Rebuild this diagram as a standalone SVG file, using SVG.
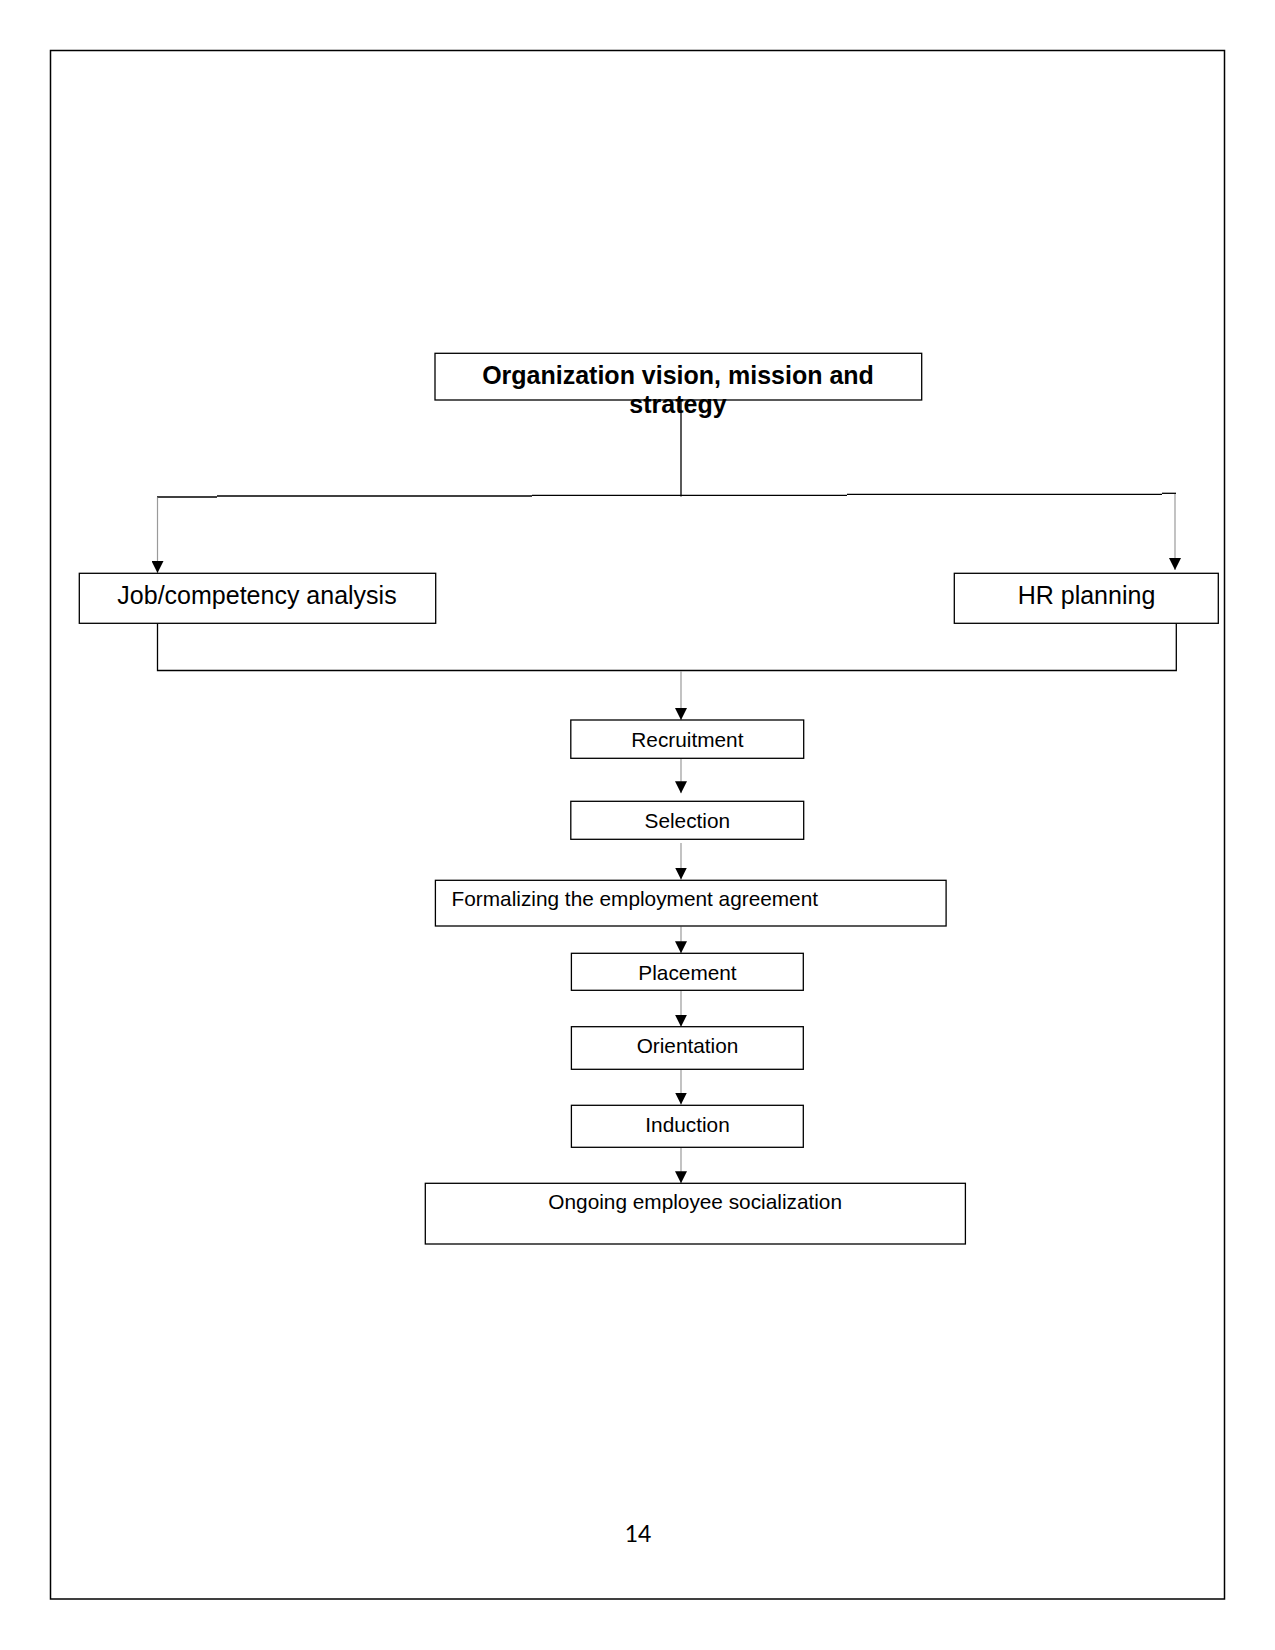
<svg xmlns="http://www.w3.org/2000/svg" width="1275" height="1650" viewBox="0 0 1275 1650">
<style>
.box{fill:#fff;stroke:#000;stroke-width:1.3}
.t{font-family:"Liberation Sans",Arial,sans-serif;fill:#000}
.big{font-size:25px}
.sm{font-size:20.8px}
.k{stroke:#000;stroke-width:1.3;fill:none}
.g{stroke:#9a9a9a;stroke-width:1.2;fill:none;marker-end:url(#ah)}
</style>
<defs>
<marker id="ah" viewBox="0 0 12 12" refX="12" refY="6" markerWidth="12" markerHeight="12" markerUnits="userSpaceOnUse" orient="auto">
<path d="M0,0 L12,6 L0,12 z" fill="#000"/>
</marker>
</defs>
<rect x="50.5" y="50.5" width="1174" height="1548.5" fill="none" stroke="#000" stroke-width="1.5"/>
<g id="connectors">
<line class="k" x1="681" y1="400" x2="681" y2="496.5"/>
<line class="k" x1="157" y1="497" x2="217" y2="497"/>
<line class="k" x1="217" y1="496" x2="532" y2="496"/>
<line class="k" x1="532" y1="495.3" x2="847" y2="495.3"/>
<line class="k" x1="847" y1="494.3" x2="1162" y2="494.3"/>
<line class="k" x1="1162" y1="493.3" x2="1176" y2="493.3"/>
<path class="g" d="M157.5,497.5 L157.5,573"/>
<path class="g" d="M1175,494 L1175,570"/>
<polyline class="k" points="157.5,623.3 157.5,670.5 1176.3,670.5 1176.3,623.3"/>
<path class="g" d="M681,671 L681,720"/>
<path class="g" d="M681,759 L681,793.3"/>
<path class="g" d="M681,843 L681,879.5"/>
<path class="g" d="M681,926.5 L681,953.3"/>
<path class="g" d="M681,991 L681,1026.7"/>
<path class="g" d="M681,1070 L681,1104.5"/>
<path class="g" d="M681,1148 L681,1183.3"/>
</g>
<g id="org">
<rect class="box" x="435" y="353.3" width="486.7" height="46.7"/>
<text class="t big" x="678" y="384" text-anchor="middle" font-weight="bold">Organization vision, mission and</text>
<text class="t big" x="678" y="412.7" text-anchor="middle" font-weight="bold">strategy</text>
</g>
<g id="job">
<rect class="box" x="79.3" y="573.3" width="356.4" height="50"/>
<text class="t big" x="257" y="604" text-anchor="middle">Job/competency analysis</text>
</g>
<g id="hr">
<rect class="box" x="954.3" y="573.3" width="264" height="50"/>
<text class="t big" x="1086.5" y="604" text-anchor="middle">HR planning</text>
</g>
<g id="recruitment">
<rect class="box" x="570.8" y="720" width="232.9" height="38.3"/>
<text class="t sm" x="687.4" y="747.3" text-anchor="middle">Recruitment</text>
</g>
<g id="selection">
<rect class="box" x="570.8" y="801.3" width="232.9" height="38"/>
<text class="t sm" x="687.3" y="827.7" text-anchor="middle">Selection</text>
</g>
<g id="formalizing">
<rect class="box" x="435.4" y="880.3" width="510.7" height="45.7"/>
<text class="t sm" x="451.6" y="906">Formalizing the employment agreement</text>
</g>
<g id="placement">
<rect class="box" x="571.4" y="953.3" width="231.9" height="37"/>
<text class="t sm" x="687.5" y="980" text-anchor="middle">Placement</text>
</g>
<g id="orientation">
<rect class="box" x="571.4" y="1026.7" width="231.9" height="42.6"/>
<text class="t sm" x="687.5" y="1053.3" text-anchor="middle">Orientation</text>
</g>
<g id="induction">
<rect class="box" x="571.4" y="1105.3" width="231.9" height="42"/>
<text class="t sm" x="687.5" y="1132" text-anchor="middle">Induction</text>
</g>
<g id="socialization">
<rect class="box" x="425.3" y="1183.3" width="540.1" height="60.7"/>
<text class="t sm" x="695.2" y="1209.3" text-anchor="middle">Ongoing employee socialization</text>
</g>
<text x="638" y="1541.7" text-anchor="middle" font-family="Lato,'Liberation Sans',sans-serif" font-size="23">14</text>
</svg>
